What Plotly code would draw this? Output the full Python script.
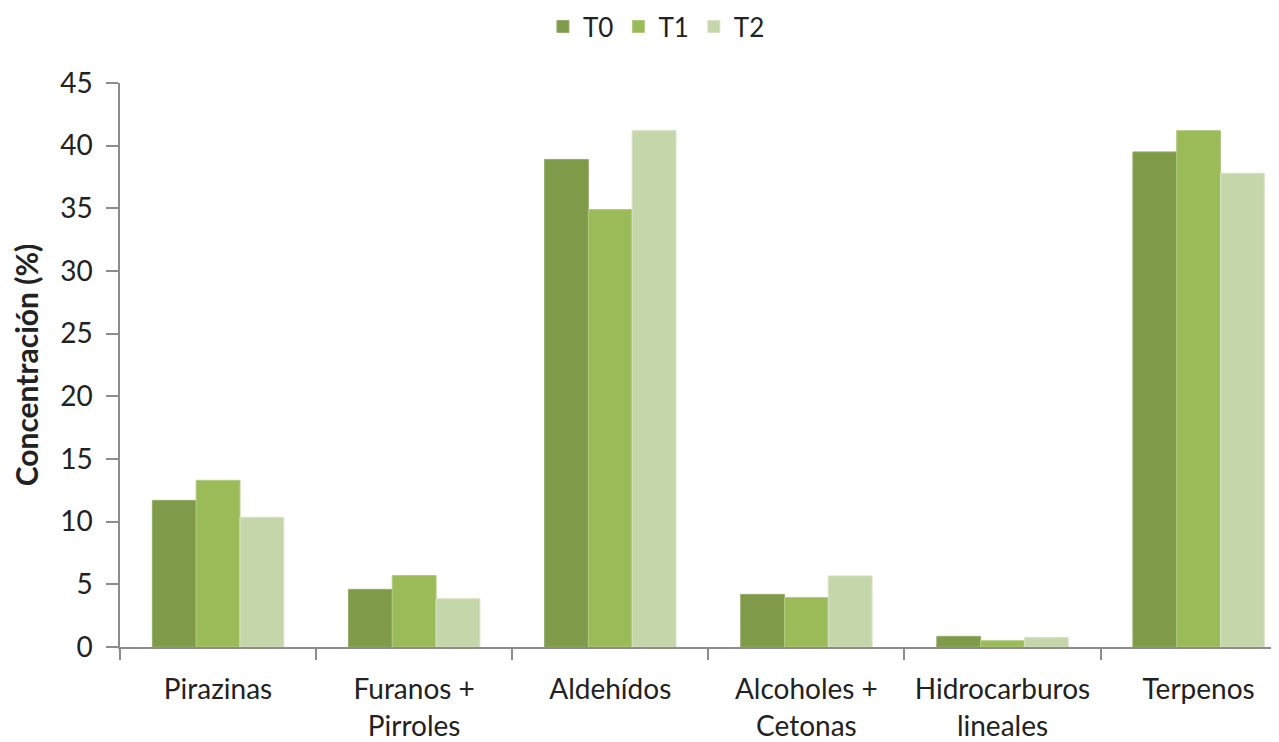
import plotly.graph_objects as go

categories = ["Pirazinas", "Furanos +<br>Pirroles", "Aldehídos", "Alcoholes +<br>Cetonas", "Hidrocarburos<br>lineales", "Terpenos"]
t0 = [11.7, 4.6, 38.9, 4.2, 0.85, 39.5]
t1 = [13.3, 5.7, 34.9, 3.95, 0.5, 41.2]
t2 = [10.35, 3.85, 41.2, 5.67, 0.75, 37.8]
series_names = ["T0", "T1", "T2"]
colors = ["#7F9A48", "#9BBB59", "#C6D6AB"]
edge = ["#96AD6A", "#B0CB7E", "#D5E2C2"]

fig = go.Figure()
for name, vals, c, e in zip(series_names, [t0, t1, t2], colors, edge):
    fig.add_trace(go.Bar(x=categories, y=vals, name=name, marker=dict(color=c, line=dict(color=e, width=1))))

font = "Lato, 'Open Sans', sans-serif"
fig.update_layout(
    width=1279, height=742,
    margin=dict(l=112, r=8, t=75, b=103, autoexpand=False),
    plot_bgcolor="white", paper_bgcolor="white",
    barmode="group", bargap=0.33, bargroupgap=0,
    font=dict(family=font, size=27, color="#222222"),
    showlegend=True,
    legend=dict(orientation="h", xref="container", yref="container", x=0.507, y=0.975,
                xanchor="center", yanchor="middle", font=dict(size=26), itemwidth=30,
                traceorder="normal", tracegroupgap=0),
    xaxis=dict(range=[-0.5, 5.41], showline=True, linecolor="#8C8C8C", linewidth=1.5,
               ticks="outside", tickson="boundaries", ticklen=11, tickcolor="#8C8C8C",
               tickwidth=1.5, tickfont=dict(size=28), showgrid=False, zeroline=False,
               ticklabelstandoff=17, automargin=False),
    yaxis=dict(range=[0, 45], dtick=5, showline=True, linecolor="#8C8C8C", linewidth=1.5,
               ticks="outside", ticklen=12, tickcolor="#8C8C8C", tickwidth=1.5,
               tickfont=dict(size=28), showgrid=False, zeroline=False, ticklabelstandoff=8,
               automargin=False,
               title=dict(text="<b>Concentración (%)</b>", font=dict(size=30), standoff=14)),
)
fig.write_html("out.html")
